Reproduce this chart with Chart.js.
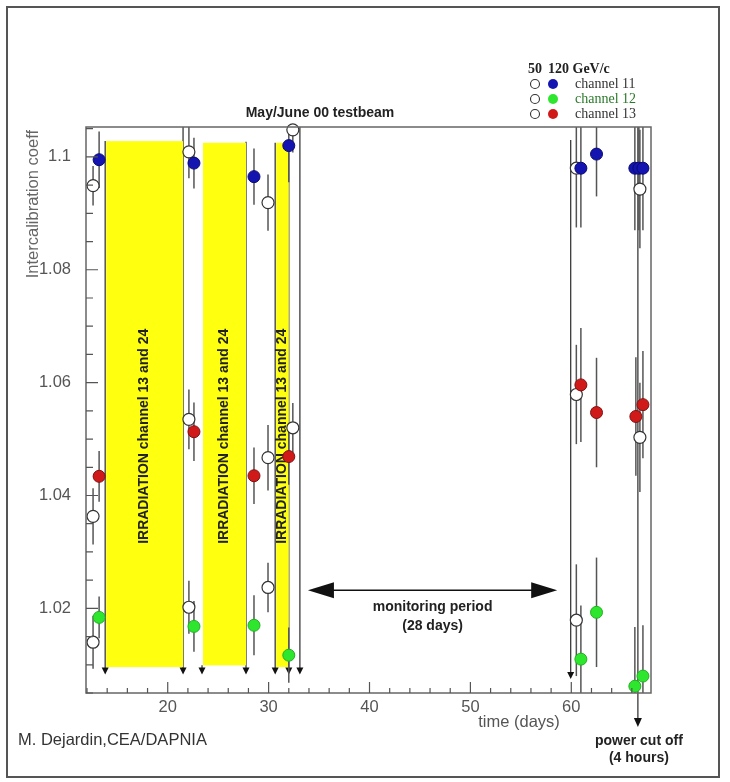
<!DOCTYPE html>
<html>
<head>
<meta charset="utf-8">
<script src="https://cdn.jsdelivr.net/npm/chart.js@4.4.0/dist/chart.umd.min.js"></script>
<style>
  html, body { margin: 0; padding: 0; background: #fff; }
  #wrap { width: 730px; height: 782px; }
</style>
</head>
<body>
<div id="wrap"><canvas id="chart" width="730" height="782"></canvas></div>
<script>
// axis ranges and ticks
const xRange = [11.9, 67.9];
const yRange = [1.005, 1.1053];
const xTicks = [20, 30, 40, 50, 60];
const xMinorTicks = [12, 14, 16, 18, 22, 24, 26, 28, 32, 34, 36, 38, 42, 44, 46, 48, 52, 54, 56, 58, 62, 64, 66];
const yTicks = [1.02, 1.04, 1.06, 1.08, 1.1];
const yMinorTicks = [1.005, 1.01, 1.015, 1.025, 1.03, 1.035, 1.045, 1.05, 1.055, 1.065, 1.07, 1.075, 1.085, 1.09, 1.095, 1.105];

// [day, coeff, error]
const ch11_120 = [[13.2, 1.0995, 0.005], [22.6, 1.0989, 0.0045], [28.55, 1.0965, 0.005], [32.0, 1.102, 0.0065],
                  [60.95, 1.098, 0.0105], [62.5, 1.1005, 0.0075], [66.3, 1.098, 0.011], [66.7, 1.098, 0.011], [67.1, 1.098, 0.011]];
const ch11_50  = [[12.6, 1.0949, 0.0035], [22.1, 1.1009, 0.0047], [29.94, 1.0919, 0.005], [32.4, 1.1048, 0.004],
                  [60.5, 1.098, 0.0105], [66.8, 1.0943, 0.0105]];
const ch12_120 = [[13.2, 1.0184, 0.0037], [22.6, 1.0168, 0.0045], [28.55, 1.017, 0.0053], [32.0, 1.0117, 0.0049],
                  [60.95, 1.011, 0.0095], [62.5, 1.0193, 0.0097], [66.3, 1.0062, 0.0105], [67.1, 1.008, 0.009]];
const ch12_50  = [[12.6, 1.014, 0.0047], [22.1, 1.0202, 0.0047], [29.94, 1.0237, 0.0044], [60.5, 1.0179, 0.0099]];
const ch13_120 = [[13.2, 1.0434, 0.0045], [22.6, 1.0513, 0.0052], [28.55, 1.0435, 0.005], [32.0, 1.0469, 0.005],
                  [60.95, 1.0596, 0.0101], [62.5, 1.0547, 0.0097], [66.4, 1.054, 0.0105], [67.1, 1.0561, 0.0095]];
const ch13_50  = [[12.6, 1.0363, 0.005], [22.1, 1.0535, 0.0053], [29.94, 1.0467, 0.0058], [32.4, 1.052, 0.0044],
                  [60.5, 1.0579, 0.0088], [66.8, 1.0503, 0.0097]];

// irradiation periods [start day, end day, low coeff, high coeff]
const irradiation = [[13.8, 21.52, 1.0096, 1.1028], [23.4, 27.76, 1.0099, 1.1025], [30.65, 32.0, 1.0096, 1.1025]];
// vertical markers [day, top coeff, arrow tip coeff]
const markers = [[13.8, 1.1028, 1.0083], [21.52, 1.1053, 1.0083], [23.4, 1.0099, 1.0083], [27.76, 1.1027, 1.0083],
                 [30.65, 1.1025, 1.0083], [32.0, 1.103, 1.0083], [33.1, 1.1053, 1.0083], [59.94, 1.103, 1.0075]];
const powerCutDay = 66.6;
const monitoring = [33.9, 58.6, 1.0232];

const BLUE = '#1414b0', GREEN = '#2ee62e', RED = '#d01a1a';
const SANS = '"Liberation Sans", Arial, sans-serif';
const SERIF = '"Liberation Serif", "Times New Roman", serif';

const pts = arr => arr.map(p => ({x: p[0], y: p[1], e: p[2]}));
const filled = (label, arr, col, edge) => ({label, data: pts(arr), order: 1, pointRadius: 6,
  pointBackgroundColor: col, pointBorderColor: edge, pointBorderWidth: 1, showLine: false});
const open = (label, arr) => ({label, data: pts(arr), order: 2, pointRadius: 6,
  pointBackgroundColor: '#fff', pointBorderColor: '#333', pointBorderWidth: 1.2, showLine: false});

function arrowHead(ctx, x, y, w, h, dir) {
  ctx.beginPath();
  if (dir === 'down') { ctx.moveTo(x, y); ctx.lineTo(x - w, y - h); ctx.lineTo(x + w, y - h); }
  else if (dir === 'left') { ctx.moveTo(x, y); ctx.lineTo(x + w, y - h); ctx.lineTo(x + w, y + h); }
  else { ctx.moveTo(x, y); ctx.lineTo(x - w, y - h); ctx.lineTo(x - w, y + h); }
  ctx.closePath(); ctx.fill();
}

const overlay = {
  id: 'overlay',
  beforeDatasetsDraw(chart) {
    const {ctx, chartArea: a, scales: {x, y}} = chart;
    ctx.save();
    // marker lines
    ctx.strokeStyle = '#3a3a3a'; ctx.fillStyle = '#111'; ctx.lineWidth = 1.3;
    markers.forEach(m => {
      const px = x.getPixelForValue(m[0]);
      const tip = y.getPixelForValue(m[2]);
      ctx.beginPath(); ctx.moveTo(px, y.getPixelForValue(m[1])); ctx.lineTo(px, tip - 4); ctx.stroke();
      arrowHead(ctx, px, tip, 3.5, 7, 'down');
    });
    // power cut line
    const pc = x.getPixelForValue(powerCutDay);
    ctx.beginPath(); ctx.moveTo(pc, a.top); ctx.lineTo(pc, a.bottom + 28); ctx.stroke();
    arrowHead(ctx, pc, a.bottom + 34, 4, 9, 'down');
    // irradiation bands
    ctx.fillStyle = '#ffff10';
    irradiation.forEach(b => {
      const x0 = x.getPixelForValue(b[0]), x1 = x.getPixelForValue(b[1]);
      const y0 = y.getPixelForValue(b[3]), y1 = y.getPixelForValue(b[2]);
      ctx.fillRect(x0 + 1, y0, x1 - x0 - 1, y1 - y0);
    });
    ctx.fillStyle = '#222';
    ctx.font = 'bold 14px ' + SANS;
    ctx.textAlign = 'center'; ctx.textBaseline = 'middle';
    irradiation.forEach(b => {
      const cx = x.getPixelForValue((b[0] + b[1]) / 2);
      ctx.save(); ctx.translate(cx, y.getPixelForValue(1.0505)); ctx.rotate(-Math.PI / 2);
      ctx.fillText('IRRADIATION channel 13 and 24', 0, 0); ctx.restore();
    });
    // error bars
    ctx.beginPath(); ctx.rect(a.left, a.top, a.right - a.left, a.bottom - a.top); ctx.clip();
    ctx.strokeStyle = '#555'; ctx.lineWidth = 1.5;
    chart.data.datasets.forEach(ds => ds.data.forEach(p => {
      const px = x.getPixelForValue(p.x);
      ctx.beginPath();
      ctx.moveTo(px, y.getPixelForValue(p.y + p.e));
      ctx.lineTo(px, y.getPixelForValue(p.y - p.e));
      ctx.stroke();
    }));
    ctx.restore();
  },
  afterDraw(chart) {
    const {ctx, chartArea: a, scales: {x, y}} = chart;
    ctx.save();
    // frame
    ctx.strokeStyle = '#666'; ctx.lineWidth = 1.5;
    ctx.strokeRect(a.left, a.top, a.right - a.left, a.bottom - a.top);
    ctx.strokeStyle = '#555'; ctx.lineWidth = 2;
    ctx.strokeRect(7, 7, 712, 770);
    // ticks inside the frame
    ctx.strokeStyle = '#555'; ctx.lineWidth = 1.2;
    ctx.beginPath();
    yTicks.forEach(v => { const py = y.getPixelForValue(v); ctx.moveTo(a.left, py); ctx.lineTo(a.left + 12, py); });
    yMinorTicks.forEach(v => { const py = y.getPixelForValue(v); ctx.moveTo(a.left, py); ctx.lineTo(a.left + 7, py); });
    xTicks.forEach(v => { const px = x.getPixelForValue(v); ctx.moveTo(px, a.bottom); ctx.lineTo(px, a.bottom - 11); });
    xMinorTicks.forEach(v => { const px = x.getPixelForValue(v); ctx.moveTo(px, a.bottom); ctx.lineTo(px, a.bottom - 5); });
    ctx.stroke();
    // monitoring arrow
    const m0 = x.getPixelForValue(monitoring[0]), m1 = x.getPixelForValue(monitoring[1]);
    const my = y.getPixelForValue(monitoring[2]);
    ctx.strokeStyle = '#111'; ctx.fillStyle = '#111'; ctx.lineWidth = 1.5;
    ctx.beginPath(); ctx.moveTo(m0 + 20, my); ctx.lineTo(m1 - 20, my); ctx.stroke();
    arrowHead(ctx, m0, my, 26, 8, 'left');
    arrowHead(ctx, m1, my, 26, 8, 'right');
    // texts
    ctx.fillStyle = '#222'; ctx.textAlign = 'center'; ctx.textBaseline = 'middle';
    ctx.font = 'bold 14px ' + SANS;
    ctx.fillText('monitoring period', (m0 + m1) / 2, my + 17);
    ctx.fillText('(28 days)', (m0 + m1) / 2, my + 36);
    ctx.fillText('May/June 00 testbeam', 320, 113);
    const pc = x.getPixelForValue(powerCutDay);
    ctx.fillText('power cut off', pc + 1, 741);
    ctx.fillText('(4 hours)', pc + 1, 758);
    ctx.fillStyle = '#555';
    ctx.font = '16.5px ' + SANS;
    ctx.fillText('time (days)', 519, 722);
    ctx.fillStyle = '#333'; ctx.textAlign = 'left';
    ctx.fillText('M. Dejardin,CEA/DAPNIA', 18, 740);
    ctx.save(); ctx.translate(33, 130); ctx.rotate(-Math.PI / 2);
    ctx.fillStyle = '#666'; ctx.textAlign = 'right';
    ctx.fillText('Intercalibration coeff', 0, 0); ctx.restore();
    // legend
    ctx.font = 'bold 14px ' + SERIF; ctx.fillStyle = '#222';
    ctx.textAlign = 'center'; ctx.fillText('50', 535, 69);
    ctx.textAlign = 'left'; ctx.fillText('120 GeV/c', 548, 69);
    const rows = [['channel 11', BLUE, '#333', 84], ['channel 12', GREEN, '#2a7a2a', 99], ['channel 13', RED, '#333', 114]];
    ctx.font = '14px ' + SERIF;
    rows.forEach(r => {
      ctx.beginPath(); ctx.arc(535, r[3], 4.5, 0, Math.PI * 2);
      ctx.fillStyle = '#fff'; ctx.fill(); ctx.strokeStyle = '#333'; ctx.lineWidth = 1.1; ctx.stroke();
      ctx.beginPath(); ctx.arc(553, r[3], 5, 0, Math.PI * 2);
      ctx.fillStyle = r[1]; ctx.fill();
      ctx.fillStyle = r[2]; ctx.fillText(r[0], 575, r[3]);
    });
    ctx.restore();
  }
};

new Chart(document.getElementById('chart'), {
  type: 'scatter',
  data: {
    datasets: [
      filled('channel 11 120 GeV/c', ch11_120, BLUE, '#0a0a70'),
      filled('channel 12 120 GeV/c', ch12_120, GREEN, '#22b022'),
      filled('channel 13 120 GeV/c', ch13_120, RED, '#801010'),
      open('channel 11 50 GeV/c', ch11_50),
      open('channel 12 50 GeV/c', ch12_50),
      open('channel 13 50 GeV/c', ch13_50)
    ]
  },
  options: {
    responsive: false,
    animation: false,
    clip: {left: 6, top: 6, right: 6, bottom: 6},
    layout: {padding: {left: 26, right: 79, top: 127, bottom: 0}},
    plugins: {legend: {display: false}, tooltip: {enabled: false}},
    scales: {
      x: {
        type: 'linear', min: xRange[0], max: xRange[1],
        afterBuildTicks: s => { s.ticks = xTicks.map(v => ({value: v})); },
        afterFit: s => { s.height = 89; },
        grid: {display: false, drawTicks: false}, border: {display: false},
        ticks: {padding: 5, color: '#555', font: {family: SANS, size: 16.5}}
      },
      y: {
        type: 'linear', min: yRange[0], max: yRange[1],
        afterBuildTicks: s => { s.ticks = yTicks.map(v => ({value: v})); },
        afterFit: s => { s.width = 60; },
        grid: {display: false, drawTicks: false}, border: {display: false},
        ticks: {padding: 15, color: '#555', font: {family: SANS, size: 16.5},
                callback: v => (v === 1.1 ? '1.1' : v.toFixed(2))}
      }
    }
  },
  plugins: [overlay]
});
</script>
</body>
</html>
